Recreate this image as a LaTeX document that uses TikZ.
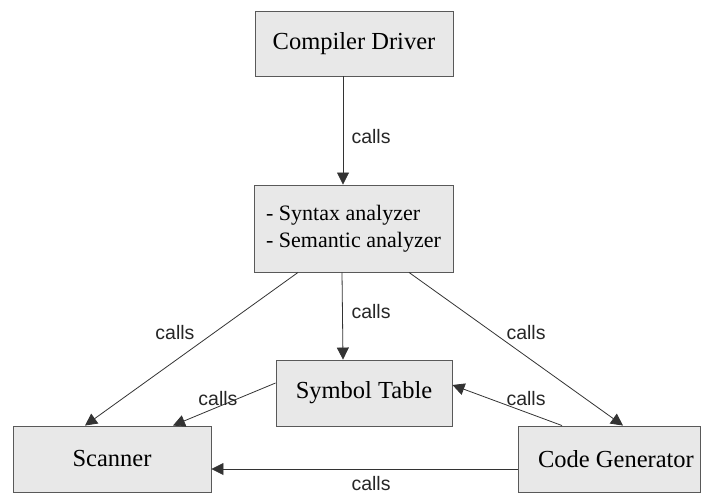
\documentclass[tikz,border=0pt]{standalone}
\usepackage{fontspec}
\setmainfont{Liberation Serif}
\newfontfamily\labelfont{Liberation Sans}
\usetikzlibrary{arrows.meta}

\tikzset{
  unit/.style={draw=black!65, line width=0.9pt, fill=black!9, rectangle,
    inner sep=0pt, font=\fontsize{24.5}{29}\selectfont},
  callarrow/.style={draw=black!80, line width=0.8pt,
    -{Triangle[length=12pt,width=12pt]}},
  calltext/.style={font=\labelfont\fontsize{19.5}{21}\selectfont, inner sep=0pt,
    text=black!85}
}

\begin{document}
\begin{tikzpicture}[x=1pt,y=-1pt]
  \useasboundingbox (0,0) rectangle (703,494);

  % modules
  \node[unit, minimum width=198pt, minimum height=65pt] (driver) at (354,43.5) {Compiler Driver};
  \node[unit, minimum width=199pt, minimum height=87pt, align=left,
        font=\fontsize{22}{27}\selectfont] (parse) at (353.5,228.5)
    {- Syntax analyzer\\- Semantic analyzer};
  \node[unit, minimum width=176pt, minimum height=66pt] (symtab) at (364,393) {Symbol Table};
  \node[unit, minimum width=198pt, minimum height=66pt] (scanner) at (112,459) {Scanner};
  \node[unit, minimum width=182pt, minimum height=66pt] (codegen) at (609,459) {\hspace*{14pt}Code Generator};

  % call relations
  \draw[callarrow] ([xshift=-11pt]driver.south) -- ([xshift=-10.5pt]parse.north);
  \node[calltext] (l1) at (371,137) {calls};

  \draw[callarrow] ([xshift=-11.5pt]parse.south) -- ([xshift=-21pt]symtab.north);
  \node[calltext] (l2) at (371,312) {calls};

  \draw[callarrow] ([xshift=-55.5pt]parse.south) -- ([xshift=-27pt]scanner.north);
  \node[calltext] (l3) at (175,333) {calls};

  \draw[callarrow] ([xshift=55.5pt]parse.south) -- ([xshift=14pt]codegen.north);
  \node[calltext] (l4) at (526,333) {calls};

  \draw[callarrow] ([yshift=10pt]symtab.west) -- ([xshift=61pt]scanner.north);
  \node[calltext] (l5) at (218,399) {calls};

  \draw[callarrow] ([xshift=-47pt]codegen.north) -- ([yshift=8pt]symtab.east);
  \node[calltext] (l6) at (526,399) {calls};

  \draw[callarrow] ([yshift=-10pt]codegen.west) -- ([yshift=-10pt]scanner.east);
  \node[calltext] (l7) at (371,484) {calls};
\end{tikzpicture}
\end{document}
